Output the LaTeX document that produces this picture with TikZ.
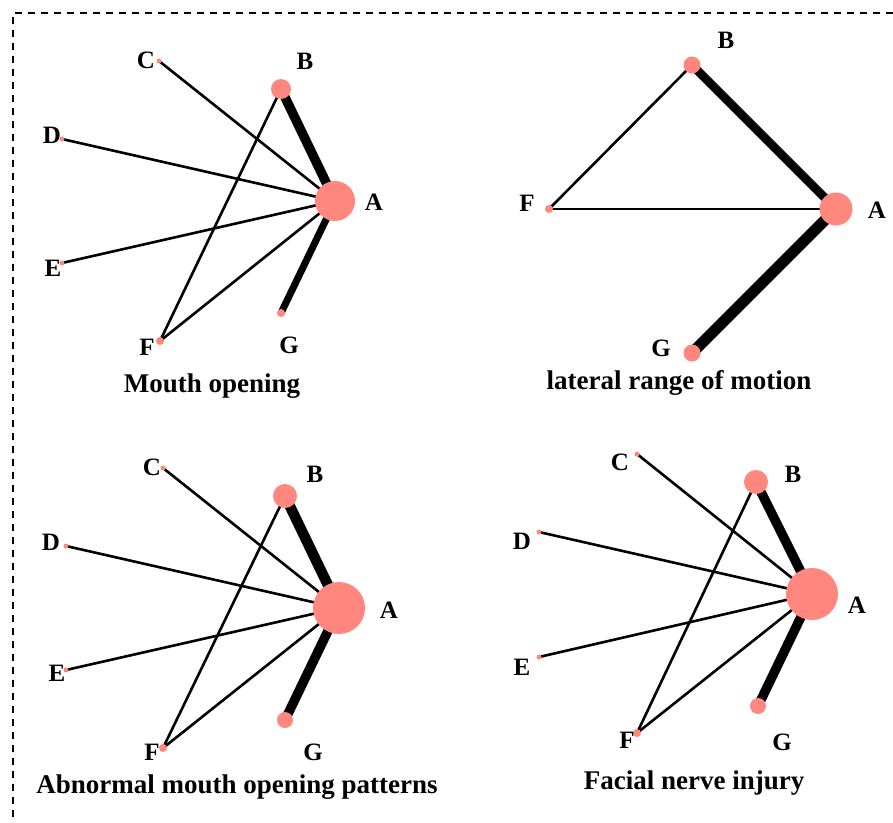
\documentclass[tikz,border=0pt]{standalone}
\usepackage{fontspec}
\setmainfont{Liberation Serif}
\usetikzlibrary{backgrounds}
\definecolor{nodepink}{RGB}{255,135,125}
\begin{document}
\begin{tikzpicture}[x=1pt,y=-1pt,
  vert/.style={circle,fill=nodepink,inner sep=0pt,minimum size=#1},
  lbl/.style={font=\fontsize{25}{25}\selectfont\bfseries,inner sep=0pt},
  ttl/.style={font=\fontsize{27}{27}\selectfont\bfseries,inner sep=0pt},
  lnk/.style={line width=#1},
  lnk/.default=2.6pt,
  frame/.style={line width=1.5pt,dash pattern=on 7pt off 6pt}
]
\useasboundingbox (0,0) rectangle (893,822);
\coordinate (fTR) at (893,13);
\coordinate (fTL) at (13,13);
\coordinate (fBL) at (13,822);
\draw[frame] (fTR) -- (fTL) -- (fBL);

% ---------- Panel 1: Mouth opening ----------
\node[vert=40pt] (A1) at (335,201) {};
\node[vert=20pt] (B1) at (281,89) {};
\node[vert=5pt] (C1) at (159,61) {};
\node[vert=5pt] (D1) at (62,139) {};
\node[vert=5pt] (E1) at (62,263) {};
\node[vert=8pt] (F1) at (160,341) {};
\node[vert=8pt] (G1) at (281,313) {};
\begin{scope}[on background layer]
\draw[lnk=9.5pt] (A1.center) -- (B1.center);
\draw[lnk=7pt] (A1.center) -- (G1.center);
\draw[lnk] (A1.center) -- (C1.center);
\draw[lnk] (A1.center) -- (D1.center);
\draw[lnk] (A1.center) -- (E1.center);
\draw[lnk] (A1.center) -- (F1.center);
\draw[lnk] (B1.center) -- (F1.center);
\end{scope}
\node[lbl] (lA1) at (374,202) {A};
\node[lbl] (lB1) at (305,61) {B};
\node[lbl] (lC1) at (146,60) {C};
\node[lbl] (lD1) at (52,135) {D};
\node[lbl] (lE1) at (53,268) {E};
\node[lbl] (lF1) at (147,347) {F};
\node[lbl] (lG1) at (289,345) {G};
\node[ttl] (t1) at (212,386) {Mouth opening};

% ---------- Panel 2: lateral range of motion ----------
\node[vert=33pt] (A2) at (836,209) {};
\node[vert=17pt] (B2) at (692,65) {};
\node[vert=8pt] (F2) at (549,209) {};
\node[vert=17pt] (G2) at (692,353) {};
\begin{scope}[on background layer]
\draw[lnk=8.5pt] (A2.center) -- (B2.center);
\draw[lnk=11pt] (A2.center) -- (G2.center);
\draw[lnk] (F2.center) -- (B2.center);
\draw[lnk] (F2.center) -- (A2.center);
\end{scope}
\node[lbl] (lA2) at (877,210) {A};
\node[lbl] (lB2) at (726,40) {B};
\node[lbl] (lF2) at (527,203) {F};
\node[lbl] (lG2) at (661,348) {G};
\node[ttl] (t2) at (679,383) {lateral range of motion};

% ---------- Panel 3: Abnormal mouth opening patterns ----------
\node[vert=52pt] (A3) at (339,608) {};
\node[vert=24pt] (B3) at (285,496) {};
\node[vert=5pt] (C3) at (163,468) {};
\node[vert=5pt] (D3) at (66,546) {};
\node[vert=5pt] (E3) at (66,670) {};
\node[vert=8pt] (F3) at (163,748) {};
\node[vert=16pt] (G3) at (285,720) {};
\begin{scope}[on background layer]
\draw[lnk=10.5pt] (A3.center) -- (B3.center);
\draw[lnk=9.5pt] (A3.center) -- (G3.center);
\draw[lnk] (A3.center) -- (C3.center);
\draw[lnk] (A3.center) -- (D3.center);
\draw[lnk] (A3.center) -- (E3.center);
\draw[lnk] (A3.center) -- (F3.center);
\draw[lnk] (B3.center) -- (F3.center);
\end{scope}
\node[lbl] (lA3) at (389,610) {A};
\node[lbl] (lB3) at (315,474) {B};
\node[lbl] (lC3) at (152,467) {C};
\node[lbl] (lD3) at (51,542) {D};
\node[lbl] (lE3) at (57,673) {E};
\node[lbl] (lF3) at (152,752) {F};
\node[lbl] (lG3) at (313,752) {G};
\node[ttl] (t3) at (237,787) {Abnormal mouth opening patterns};

% ---------- Panel 4: Facial nerve injury ----------
\node[vert=52pt] (A4) at (812,594) {};
\node[vert=24pt] (B4) at (756,482) {};
\node[vert=5pt] (C4) at (637,454) {};
\node[vert=5pt] (D4) at (539,532) {};
\node[vert=5pt] (E4) at (539,657) {};
\node[vert=8pt] (F4) at (637,733) {};
\node[vert=16pt] (G4) at (758,706) {};
\begin{scope}[on background layer]
\draw[lnk=9.5pt] (A4.center) -- (B4.center);
\draw[lnk=9.5pt] (A4.center) -- (G4.center);
\draw[lnk] (A4.center) -- (C4.center);
\draw[lnk] (A4.center) -- (D4.center);
\draw[lnk] (A4.center) -- (E4.center);
\draw[lnk] (A4.center) -- (F4.center);
\draw[lnk] (B4.center) -- (F4.center);
\end{scope}
\node[lbl] (lA4) at (857,605) {A};
\node[lbl] (lB4) at (793,474) {B};
\node[lbl] (lC4) at (620,462) {C};
\node[lbl] (lD4) at (522,541) {D};
\node[lbl] (lE4) at (522,667) {E};
\node[lbl] (lF4) at (627,740) {F};
\node[lbl] (lG4) at (782,742) {G};
\node[ttl] (t4) at (694,783) {Facial nerve injury};
\end{tikzpicture}
\end{document}
